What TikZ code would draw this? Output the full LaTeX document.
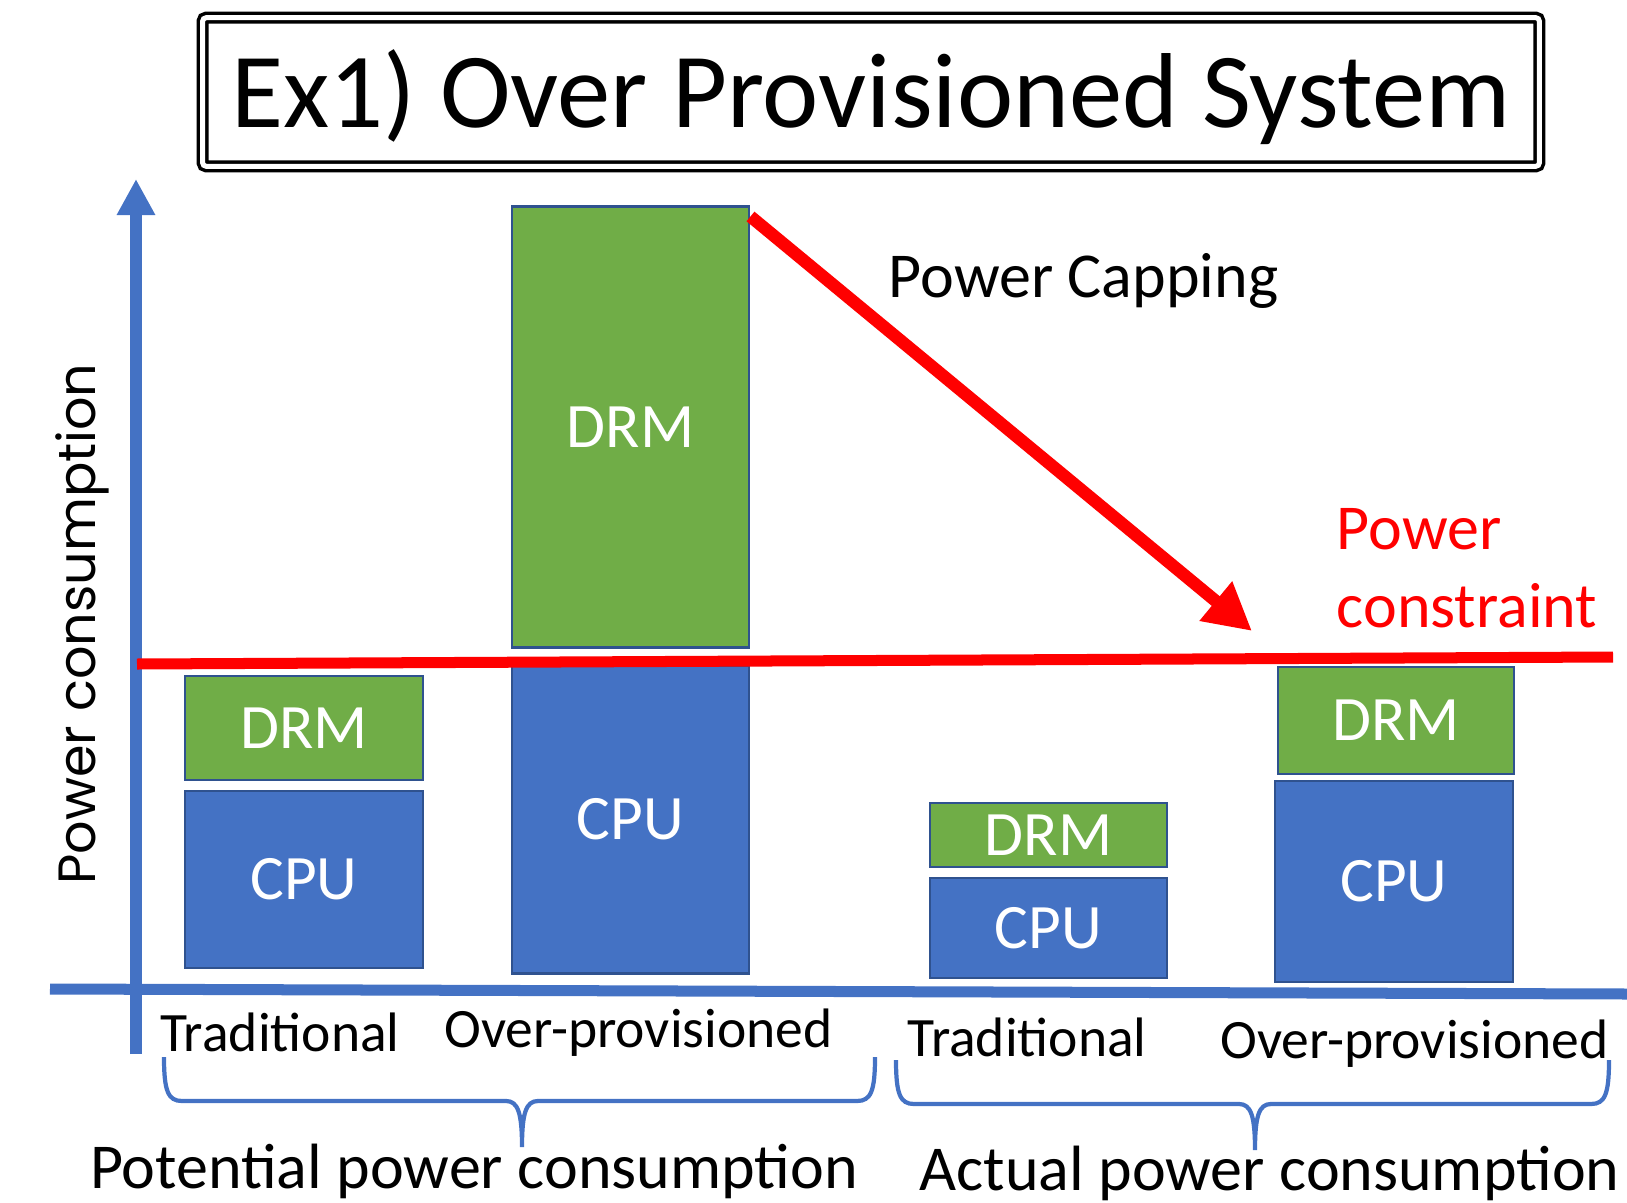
\documentclass[tikz,border=0pt]{standalone}
\usepackage{fontspec}
\setmainfont{Carlito}
\newfontfamily\axisfont{Poppins}
\usepackage{tikz}
\usetikzlibrary{arrows.meta}
\definecolor{cpublue}{HTML}{4472C4}
\definecolor{drmgreen}{HTML}{70AD47}
\definecolor{edgeblue}{HTML}{2F528F}
\definecolor{capred}{HTML}{FF0000}
\tikzset{
	bar/.style={draw=edgeblue, line width=0.8pt, text=white, inner sep=0pt, font=\fontsize{18}{22}\selectfont},
	cpubar/.style={bar, fill=cpublue},
	drmbar/.style={bar, fill=drmgreen},
	kind/.style={anchor=base, font=\fontsize{15.8}{18}\selectfont},
	group/.style={anchor=base, font=\fontsize{18.2}{22}\selectfont},
	axisline/.style={cpublue, line width=0.11cm},
	limitline/.style={capred, line width=0.11cm},
}
% brace under a group: (left x, right x)(top y, tip x)
\def\groupbrace(#1,#2)(#3,#4){\draw[cpublue, line width=1.2pt] (#1,#3) .. controls (#1,#3+34) and (#1+4,#3+44) .. (#1+18,#3+44) -- (#4-16,#3+44) .. controls (#4-4,#3+44) and (#4,#3+56) .. (#4,#3+90) .. controls (#4,#3+56) and (#4+4,#3+44) .. (#4+16,#3+44) -- (#2-18,#3+44) .. controls (#2-4,#3+44) and (#2,#3+34) .. (#2,#3);}

\begin{document}
\begin{tikzpicture}[x=0.01cm, y=-0.01cm]
			%%%%% START %%%%%
			\useasboundingbox (0,0) rectangle (1627,1203);
			
			\node[draw, line width=1pt, double, double distance=1.42pt, rounded corners=1pt, minimum width=13.36cm, minimum height=1.485cm, text height=0.8cm, text depth=0.1cm, font=\fontsize{30.3}{36}\selectfont] (title) at (871, 92) {Ex1) Over Provisioned System\hspace{0.25cm}};
			
			% axes
			\draw[axisline, -{Triangle[length=0.36cm, width=0.36cm]}] (136, 1054) -- (136, 179);
			\draw[axisline] (50, 989) -- (1627, 994);
			\node[rotate=90, anchor=base, inner sep=0pt, font=\axisfont\fontsize{14.9}{18}\selectfont] (ylabel) at (95, 624) {Power consumption};
			
			% potential
			\node[cpubar, minimum width=2.38cm, minimum height=1.77cm] (tcpu1) at (304, 879.5) {CPU};
			\node[drmbar, minimum width=2.38cm, minimum height=1.04cm] (tdrm1) at (304, 728) {DRM};
			\node[cpubar, minimum width=2.37cm, minimum height=3.07cm] (ocpu1) at (630.5, 819.5) {CPU};
			\node[drmbar, minimum width=2.37cm, minimum height=4.40cm] (odrm1) at (630.5, 427) {DRM};
			
			% actual
			\node[cpubar, minimum width=2.37cm, minimum height=1.00cm] (tcpu2) at (1048.5, 928) {CPU};
			\node[drmbar, minimum width=2.37cm, minimum height=0.64cm] (tdrm2) at (1048.5, 835) {DRM};
			\node[cpubar, minimum width=2.38cm, minimum height=2.01cm] (ocpu2) at (1394, 881.5) {CPU};
			\node[drmbar, minimum width=2.36cm, minimum height=1.07cm] (odrm2) at (1396, 720.5) {DRM};
			
			% constraint
			\draw[limitline] (137, 664) -- (1613, 657);
			\node[anchor=base west, align=left, inner sep=0pt, text=capred, font=\fontsize{18.2}{21.9}\selectfont] (limit) at (1336, 627) {Power\\constraint};
			
			\coordinate (captip) at (1252, 631);
			\draw[capred, line width=0.125cm, -{Triangle[length=0.47cm, width=0.48cm]}] ([yshift=-0.11cm]odrm1.north east) -- (captip);
			\node[anchor=base west, inner sep=0pt, font=\fontsize{18.2}{22}\selectfont] (capping) at (888, 297) {Power Capping};
			
			% labels
			\node[kind] (tlab1) at (280, 1051) {Traditional};
			\node[kind] (olab1) at (638.5, 1047) {Over-provisioned};
			\node[kind] (tlab2) at (1027, 1056) {Traditional};
			\node[kind] (olab2) at (1414.5, 1058) {Over-provisioned};
			
			\groupbrace(164,875)(1057,522)
			\groupbrace(896,1609)(1060,1255)
			
			\node[group] (potential) at (474, 1188) {Potential power consumption};
			\node[group] (actual) at (1269.5, 1190) {Actual power consumption};
			
			%%%%% END %%%%%
\end{tikzpicture}
\end{document}
